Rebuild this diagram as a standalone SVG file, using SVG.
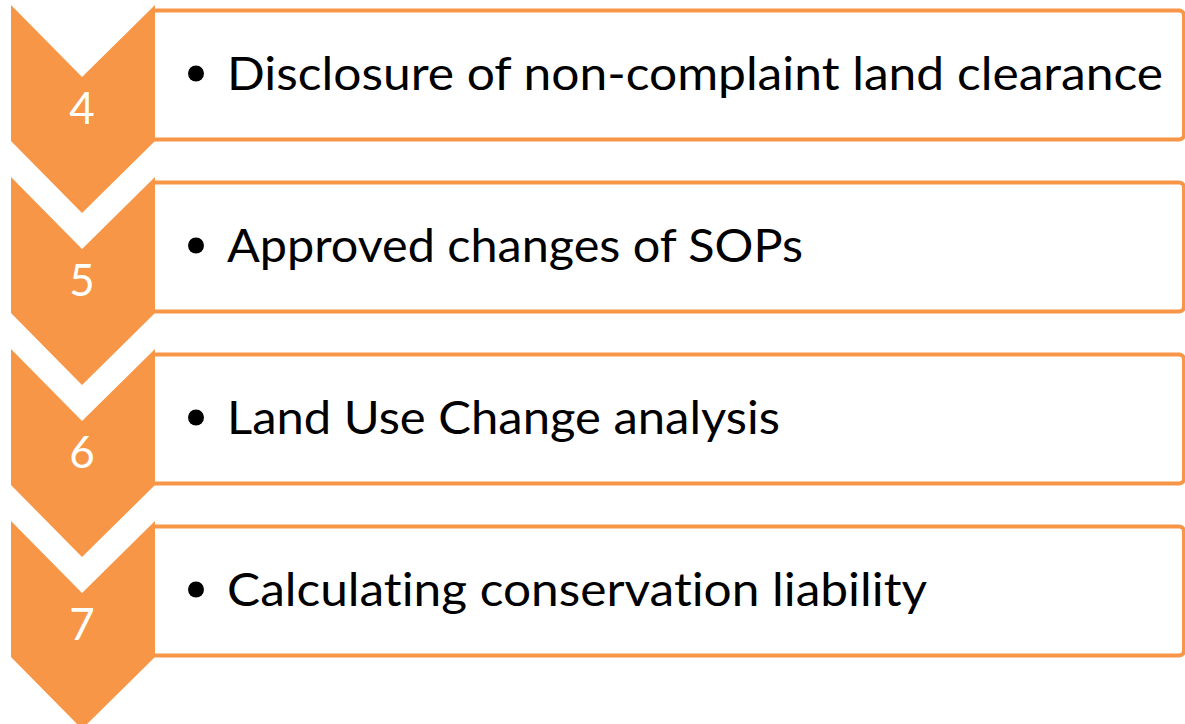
<svg xmlns="http://www.w3.org/2000/svg" width="1185" height="724" viewBox="0 0 1185 724">
<style>
.box{fill:#ffffff;stroke:#F79646;stroke-width:4}
.chev{fill:#F79646}
.num{font-family:Lato,"Open Sans",sans-serif;font-size:44px;fill:#ffffff;text-anchor:middle}
.lbl{font-family:Lato,"Open Sans",sans-serif;font-size:46px;fill:#000000;font-variant-ligatures:none;font-feature-settings:"liga" 0,"dlig" 0}
.dot{fill:#000000}
</style>
<rect width="1185" height="724" fill="#ffffff"/>
<g id="step4">
<rect class="box" x="150" y="10.5" width="1034" height="129" rx="5"/>
<path class="chev" d="M11,5 L82,77 L155,5 L155,141 L82,213 L11,141 Z"/>
<text class="num" x="82" y="124">4</text>
<circle class="dot" cx="196" cy="73.5" r="8"/>
<text class="lbl" x="227" y="90" textLength="936" lengthAdjust="spacingAndGlyphs">Disclosure of non-complaint land clearance</text>
</g>
<g id="step5">
<rect class="box" x="150" y="182.5" width="1034" height="129" rx="5"/>
<path class="chev" d="M11,177 L82,249 L155,177 L155,313 L82,385 L11,313 Z"/>
<text class="num" x="82" y="296">5</text>
<circle class="dot" cx="196" cy="245.5" r="8"/>
<text class="lbl" x="227" y="262" textLength="576" lengthAdjust="spacingAndGlyphs">Approved changes of SOPs</text>
</g>
<g id="step6">
<rect class="box" x="150" y="354.5" width="1034" height="129" rx="5"/>
<path class="chev" d="M11,349 L82,421 L155,349 L155,485 L82,557 L11,485 Z"/>
<text class="num" x="82" y="468">6</text>
<circle class="dot" cx="196" cy="417.5" r="8"/>
<text class="lbl" x="227" y="434" textLength="553" lengthAdjust="spacingAndGlyphs">Land Use Change analysis</text>
</g>
<g id="step7">
<rect class="box" x="150" y="526.5" width="1034" height="129" rx="5"/>
<path class="chev" d="M11,521 L82,593 L155,521 L155,657 L82,729 L11,657 Z"/>
<text class="num" x="82" y="640">7</text>
<circle class="dot" cx="196" cy="589.5" r="8"/>
<text class="lbl" x="227" y="606" textLength="700" lengthAdjust="spacingAndGlyphs">Calculating conservation liability</text>
</g>
<g id="connectors"></g>
</svg>
